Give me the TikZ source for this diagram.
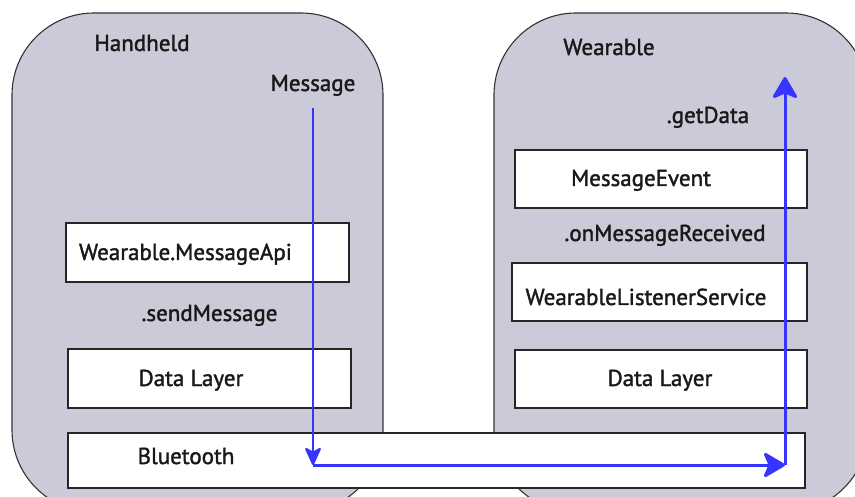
\documentclass[tikz,border=0pt]{standalone}
\usepackage{fontspec}
\newfontfamily\lblfont{PT Sans}[FakeBold=1.6]
\usetikzlibrary{arrows.meta}
\definecolor{devfill}{HTML}{CBCAD8}
\definecolor{flowblue}{HTML}{3535FF}
\begin{document}
\begin{tikzpicture}[x=1pt,y=-1pt,
  font=\lblfont\fontsize{23}{27}\selectfont,
  device/.style={draw=black!80, fill=devfill, line width=1.1pt, rounded corners=82pt},
  layer/.style={draw=black!85, fill=white, line width=1.1pt, inner sep=0pt},
  lbl/.style={inner sep=0pt, anchor=base, text=black!90},
  flowline/.style={draw=flowblue, line width=3pt},
  tipsmall/.style={-{Stealth[length=20pt,width=18pt,inset=5pt,round]}},
  tipbig/.style={-{Stealth[length=24pt,width=28pt,inset=6pt,round]}}]
\useasboundingbox (0,0) rectangle (855,497);
% device outlines
\path[device] (12,13) rectangle (383,512);
\path[device] (494,13) rectangle (868,512);
% layer boxes (left)
\node[layer, minimum width=283pt, minimum height=59pt] (api) at (207.5,252.5) {};
\node[layer, minimum width=283pt, minimum height=59pt] (dl1) at (209.5,378.5) {};
% layer boxes (right)
\node[layer, minimum width=292pt, minimum height=58pt] (mevt) at (661,179) {};
\node[layer, minimum width=295pt, minimum height=58pt] (wls) at (659.5,292) {};
\node[layer, minimum width=292pt, minimum height=58pt] (dl2) at (661,379) {};
% bluetooth bar
\node[layer, minimum width=737pt, minimum height=55pt] (bt) at (436.5,460.5) {};
% labels
\node[lbl] (thand) at (142,51) {Handheld};
\node[lbl] (tmsg) at (313,91) {Message};
\node[lbl] (twear) at (609,55) {Wearable};
\node[lbl] (tget) at (708,123) {.getData};
\node[lbl] (tmevt) at (641,186) {MessageEvent};
\node[lbl] (trecv) at (665,241) {.onMessageReceived};
\node[lbl] (twls) at (646,305) {WearableListenerService};
\node[lbl] (tdl2) at (660,386) {Data Layer};
\node[lbl] (tapi) at (185.5,260) {Wearable.MessageApi};
\node[lbl] (tsend) at (209.5,321) {.sendMessage};
\node[lbl] (tdl1) at (191,386) {Data Layer};
\node[lbl] (tbt) at (186,464) {Bluetooth};
% flow
\coordinate (start) at (313,108);
\coordinate (down) at (313,465);
\coordinate (corner) at (785,465);
\coordinate (top) at (785,77);
\draw[flowline, line width=2.2pt, tipsmall] (start) -- (down);
\draw[flowline, tipbig] (down) -- (corner);
\draw[flowline, tipbig] (corner) -- (top);
\end{tikzpicture}
\end{document}
